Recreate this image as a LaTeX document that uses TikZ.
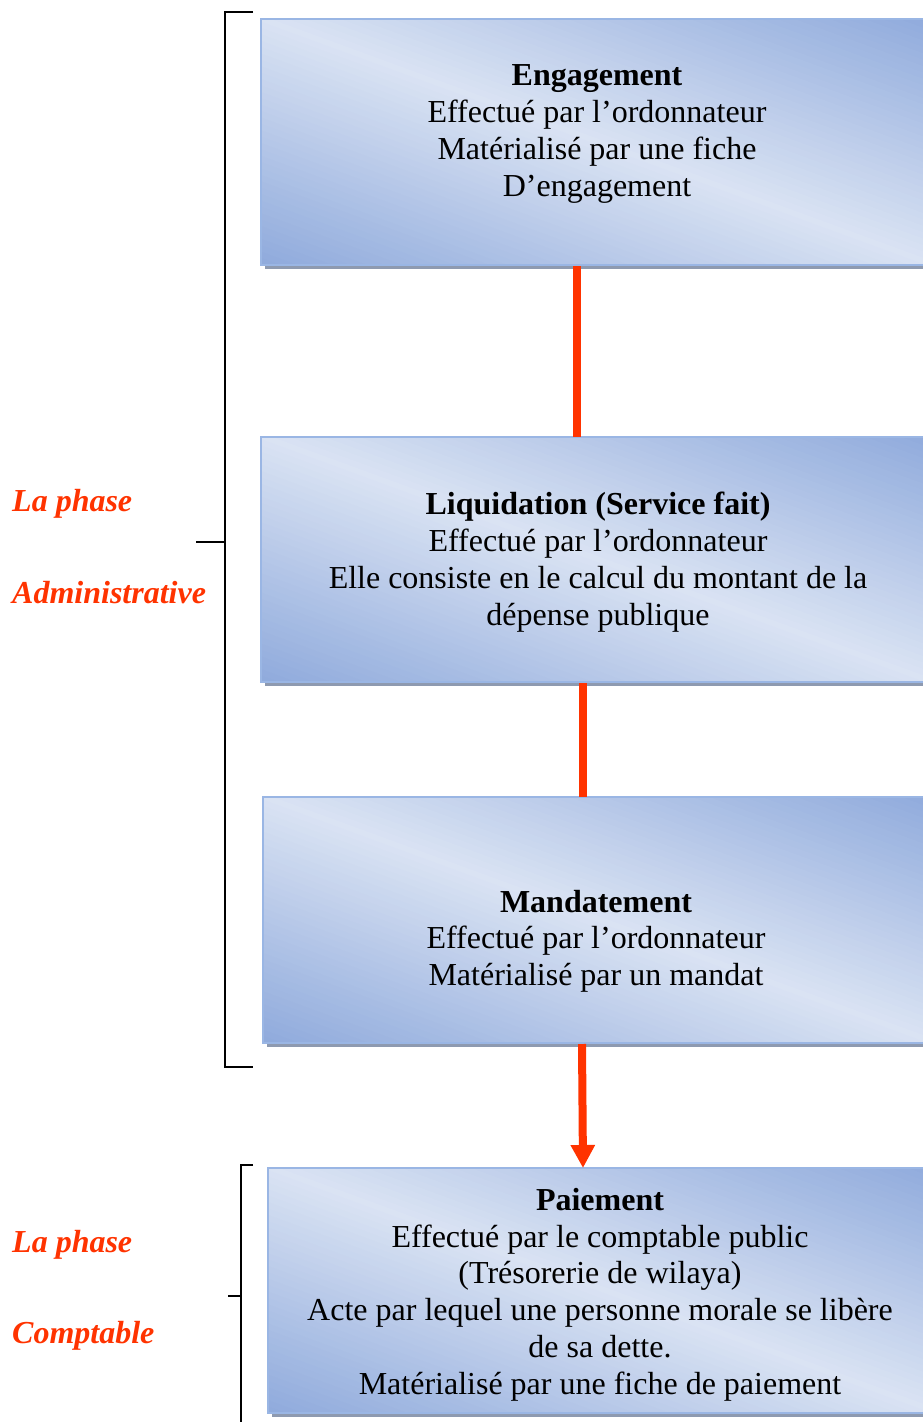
\documentclass[tikz,border=0pt]{standalone}
\usepackage{fontspec}
\setmainfont{Liberation Serif}
\usetikzlibrary{shadows,arrows.meta}
\definecolor{boxdark}{HTML}{8FAADC}
\definecolor{boxlight}{HTML}{DAE3F3}
\definecolor{boxline}{HTML}{9AB6E4}
\definecolor{boxshadow}{HTML}{8E9AB0}
\definecolor{phasered}{HTML}{FF3300}
\tikzset{
 stagebox/.style={rectangle, draw=boxline, fill=boxdark, line width=1.5pt, outer sep=0pt,
   minimum width=672pt, minimum height=246pt, inner sep=0pt,
   general shadow={shadow xshift=4pt, shadow yshift=-4pt, fill=boxshadow, draw=none}},
 stagerim/.style={draw=boxline, line width=1.5pt},
 stagetext/.style={align=center, font=\fontsize{32}{36.7}\selectfont, inner sep=0pt, anchor=base},
 phaselabel/.style={anchor=base west, inner sep=0pt, text=phasered, font=\fontsize{32}{36.7}\selectfont\bfseries\itshape},
 flow/.style={draw=phasered, line width=8pt},
 bracket/.style={draw=black, line width=1.3pt},
}
% diagonal gradient: light along the top-left/bottom-right diagonal, dark towards the other corners
\newcommand\stageshade[1]{%
 \begin{scope}
  \clip (#1.south west) rectangle (#1.north east);
  \begin{scope}[shift={(#1.center)}, rotate=-20.1]
   \foreach \k in {-38,...,38} {
     \pgfmathsetmacro\mixpct{min(100,abs(\k)*2.5974)}
     \fill[boxdark!\mixpct!boxlight] (-420,\k*6-3.5) rectangle (420,\k*6+3.5);
   }
  \end{scope}
 \end{scope}
 \draw[stagerim] (#1.south west) rectangle (#1.north east);
}
\begin{document}
\begin{tikzpicture}[x=1pt,y=-1pt]
\useasboundingbox (0,0) rectangle (923,1422);
\clip (0,0) rectangle (923,1422);
% brackets
\draw[bracket] (253,12) -- (225,12) -- (225,1067) -- (253,1067);
\draw[bracket] (196,542) -- (225,542);
\draw[bracket] (253,1165) -- (241,1165) -- (241,1430);
\draw[bracket] (228,1296) -- (241,1296);
% boxes
\node[stagebox] (b1) at (597,142) {};
\stageshade{b1}
\node[stagebox, minimum height=245pt] (b2) at (597,559.5) {};
\stageshade{b2}
\node[stagebox] (b3) at (599,920) {};
\stageshade{b3}
\node[stagebox, minimum height=245pt] (b4) at (604,1290.5) {};
\stageshade{b4}
% texts (base anchor = baseline of the last line)
\node[stagetext] (t1) at (597,196) {\textbf{Engagement}\\Effectué par l’ordonnateur\\Matérialisé par une fiche\\D’engagement};
\node[stagetext] (t2) at (598,625) {\textbf{Liquidation (Service fait)}\\Effectué par l’ordonnateur\\Elle consiste en le calcul du montant de la\\dépense publique};
\node[stagetext] (t3) at (596,985.5) {\textbf{Mandatement}\\Effectué par l’ordonnateur\\Matérialisé par un mandat};
\node[stagetext] (t4) at (600,1394) {\textbf{Paiement}\\Effectué par le comptable public\\(Trésorerie de wilaya)\\Acte par lequel une personne morale se libère\\de sa dette.\\Matérialisé par une fiche de paiement};
% phase labels
\node[phaselabel] (p1) at (12,511) {La phase};
\node[phaselabel] (p2) at (12,603) {Administrative};
\node[phaselabel] (p3) at (12,1252) {La phase};
\node[phaselabel] (p4) at (12,1343) {Comptable};
% connectors
\draw[flow] ([xshift=-20pt,yshift=-1pt]b1.south) -- ([xshift=-20pt]b2.north);
\draw[flow] ([xshift=-14pt,yshift=-1pt]b2.south) -- ([xshift=-16pt]b3.north);
\draw[flow, -{Triangle[width=23pt,length=23pt]}] ([xshift=-17pt,yshift=-1pt]b3.south) -- ([xshift=-21pt]b4.north);
\end{tikzpicture}
\end{document}
